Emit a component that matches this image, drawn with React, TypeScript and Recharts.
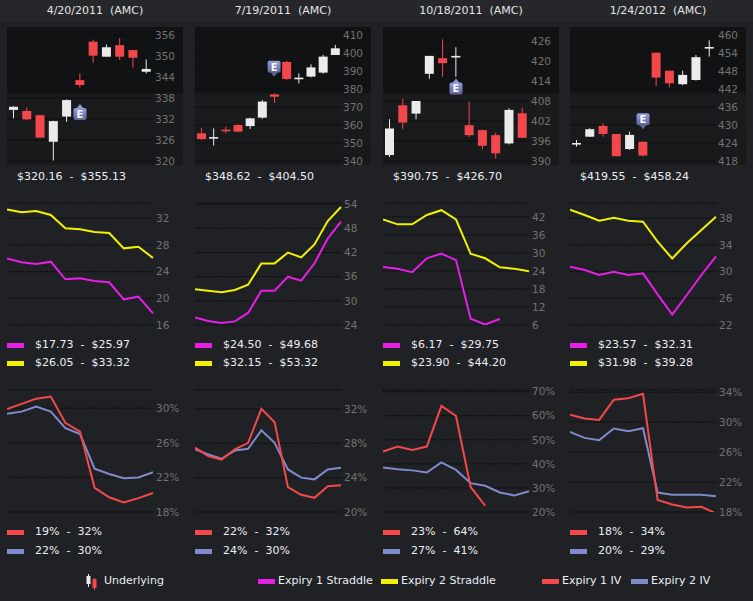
import React from 'react';
import {
  ComposedChart,
  Bar,
  Line,
  XAxis,
  YAxis,
  CartesianGrid,
  ReferenceDot
} from 'recharts';

const FONT = '"DejaVu Sans", sans-serif';

const titles = ['4/20/2011  (AMC)', '7/19/2011  (AMC)', '10/18/2011  (AMC)', '1/24/2012  (AMC)'];

// daily candles as [open, high, low, close]
const ohlcApr11 = [
  [334.6, 335.6, 332.2, 335.5], [334.3, 335.3, 331.7, 331.9], [333.1, 333.2, 326.5, 326.7],
  [325.5, 331.5, 320.16, 331.4], [332.7, 337.6, 331.2, 337.4], [343.1, 345.0, 341.0, 341.7],
  [354.1, 354.6, 348.1, 350.1], [349.8, 353.3, 349.8, 352.5], [353.1, 355.13, 348.9, 349.8],
  [351.7, 351.7, 346.7, 349.5], [345.5, 349.0, 345.0, 346.3]
];
const ohlcJul11 = [
  [355.4, 358.5, 351.7, 352.2], [353.0, 358.1, 348.62, 353.3], [357.4, 359.1, 355.4, 357.0],
  [360.0, 360.6, 356.0, 356.3], [359.4, 364.0, 357.8, 363.7], [364.1, 373.9, 363.5, 373.0],
  [377.0, 377.6, 372.4, 375.7], [395.0, 395.6, 385.0, 385.6], [385.9, 388.7, 383.1, 386.3],
  [386.9, 393.7, 386.5, 392.0], [389.1, 398.9, 388.5, 398.0], [398.9, 404.5, 398.9, 402.6]
];
const ohlcOct11 = [
  [391.8, 402.6, 391.2, 399.8], [406.8, 408.7, 399.7, 401.6], [404.3, 408.1, 402.6, 408.1],
  [416.3, 421.7, 414.8, 421.7], [421.0, 426.7, 415.4, 419.5], [421.3, 424.3, 415.4, 421.7],
  [400.8, 407.9, 397.3, 397.8], [399.3, 399.5, 393.5, 394.6], [397.8, 398.5, 390.75, 392.3],
  [395.3, 405.9, 395.0, 405.4], [404.4, 406.1, 397.0, 397.0]
];
const ohlcJan12 = [
  [423.8, 425.0, 422.8, 424.0], [426.1, 428.9, 426.0, 428.6], [429.7, 430.6, 426.1, 427.0],
  [427.0, 427.0, 419.55, 419.6], [422.0, 427.8, 421.7, 426.7], [424.4, 424.5, 419.6, 419.8],
  [454.1, 454.1, 443.0, 445.8], [448.1, 448.1, 442.6, 443.9], [443.6, 448.1, 443.3, 446.7],
  [445.0, 453.3, 444.8, 452.6], [455.6, 458.24, 452.8, 456.0]
];

const priceTicks = [
  [320, 326, 332, 338, 344, 350, 356],
  [340, 350, 360, 370, 380, 390, 400, 410],
  [390, 396, 402, 408, 414, 420, 426],
  [418, 424, 430, 436, 442, 448, 454, 460]
];
const priceDomains = [[320, 356], [340, 410], [390, 428], [418, 460]];
const priceRanges = ['$320.16  -  $355.13', '$348.62  -  $404.50', '$390.75  -  $426.70', '$419.55  -  $458.24'];

// earnings marker: candle index, price level, pointer direction
const earnIdx = [5, 6, 5, 5];
const earnVal = [333.4, 392.4, 411.9, 431.9];
const earnDir = ['up', 'down', 'up', 'down'];

// straddle prices
const straddle1Apr = [25.97, 25.4, 25.15, 25.5, 22.85, 23.0, 22.6, 22.4, 19.85, 20.25, 17.73];
const straddle2Apr = [33.32, 32.9, 33.1, 32.5, 30.5, 30.35, 29.95, 29.8, 27.5, 27.75, 26.05];
const straddle1Jul = [25.9, 25.0, 24.5, 24.9, 27.0, 32.5, 32.5, 36.0, 35.0, 39.3, 45.5, 49.68];
const straddle2Jul = [32.9, 32.5, 32.15, 32.7, 34.0, 39.3, 39.3, 42.0, 40.8, 44.0, 49.8, 53.32];
const straddle1Oct = [25.3, 24.7, 23.6, 28.2, 29.75, 27.6, 8.1, 6.17, 8.0, null, null];
const straddle2Oct = [41.1, 39.5, 39.5, 42.6, 44.2, 41.1, 29.7, 28.2, 25.2, 24.7, 23.9];
const straddle1Jan = [30.75, 30.25, 29.5, 30.0, 29.5, 29.75, 26.6, 23.57, 26.5, 29.5, 32.31];
const straddle2Jan = [39.28, 38.5, 37.65, 38.1, 37.65, 37.5, 34.5, 31.98, 34.25, 36.25, 38.25];

const straddleTicks = [[16, 20, 24, 28, 32], [24, 30, 36, 42, 48, 54], [6, 12, 18, 24, 30, 36, 42], [22, 26, 30, 34, 38]];
const straddleDomains = [[16, 34.3], [24, 54.3], [6, 46.6], [22, 40.3]];
const straddle1Ranges = ['$17.73  -  $25.97', '$24.50  -  $49.68', '$6.17  -  $29.75', '$23.57  -  $32.31'];
const straddle2Ranges = ['$26.05  -  $33.32', '$32.15  -  $53.32', '$23.90  -  $44.20', '$31.98  -  $39.28'];

// implied volatility, percent
const iv1Apr = [29.9, 30.5, 31.1, 31.35, 28.3, 27.3, 20.8, 19.7, 19.1, 19.6, 20.2];
const iv2Apr = [29.35, 29.6, 30.2, 29.6, 27.7, 27.0, 23.0, 22.4, 21.9, 22.0, 22.6];
const iv1Jul = [27.5, 26.5, 26.1, 27.3, 28.05, 32.0, 30.45, 22.9, 22.0, 21.65, 23.0, 23.1];
const iv2Jul = [27.3, 26.7, 26.2, 27.15, 27.35, 29.5, 28.05, 24.95, 24.0, 23.8, 24.95, 25.15];
const iv1Oct = [45.1, 47.2, 45.8, 47.2, 64.1, 59.9, 30.4, 22.6, null, null, null];
const iv2Oct = [38.5, 37.8, 37.3, 36.4, 40.6, 37.5, 32.0, 30.9, 28.1, 26.9, 28.6];
const iv1Jan = [31.0, 30.5, 30.3, 33.0, 33.2, 33.8, 19.6, 19.0, 18.6, 18.7, 17.8];
const iv2Jan = [28.7, 27.9, 27.6, 29.15, 28.8, 29.2, 20.6, 20.3, 20.3, 20.3, 20.1];

const ivTicks = [[18, 22, 26, 30], [20, 24, 28, 32], [20, 30, 40, 50, 60, 70], [18, 22, 26, 30, 34]];
const ivDomains = [[18, 32.1], [20, 34.2], [20, 70.7], [18, 34.3]];
const iv1Ranges = ['19%  -  32%', '22%  -  32%', '23%  -  64%', '18%  -  34%'];
const iv2Ranges = ['22%  -  30%', '24%  -  30%', '27%  -  41%', '20%  -  29%'];

const ohlcAll = [ohlcApr11, ohlcJul11, ohlcOct11, ohlcJan12];
const straddle1All = [straddle1Apr, straddle1Jul, straddle1Oct, straddle1Jan];
const straddle2All = [straddle2Apr, straddle2Jul, straddle2Oct, straddle2Jan];
const iv1All = [iv1Apr, iv1Jul, iv1Oct, iv1Jan];
const iv2All = [iv2Apr, iv2Jul, iv2Oct, iv2Jan];

const COL_LEFT = [7, 195, 383, 570];
const COL_W = 176;
const AXIS_W = 30;

const C_WHITE = '#ebebeb';
const C_RED = '#f2484b';
const C_MAGENTA = '#e61ee6';
const C_YELLOW = '#f2f200';
const C_IV1 = '#f5484b';
const C_IV2 = '#7e8bcc';
const C_TICK = '#727272';
const C_TEXT = '#eceef4';

function Candle(props: any) {
  const { x, y, width, height, payload } = props;
  if (!payload || !isFinite(y) || !isFinite(height)) return null;
  const { open, high, low, close } = payload;
  const span = high - low || 1;
  const py = (v: number) => y + ((high - v) / span) * height;
  const color = close >= open ? C_WHITE : C_RED;
  const cx = x + width / 2;
  const top = py(Math.max(open, close));
  const bot = py(Math.min(open, close));
  const bh = Math.max(bot - top, 1.6);
  return (
    <g>
      <line x1={cx} x2={cx} y1={y} y2={y + height} stroke={color} strokeWidth={1} />
      <rect x={x} y={top} width={width} height={bh} fill={color} />
    </g>
  );
}

function EarnMark(props: any) {
  const { cx, cy, dir } = props;
  if (!isFinite(cx) || !isFinite(cy)) return null;
  const w = 13;
  const h = 12;
  const x0 = cx - w / 2;
  const y0 = cy - h / 2;
  const tri = dir === 'up'
    ? `${cx - 3.5},${y0 + 0.5} ${cx},${y0 - 4} ${cx + 3.5},${y0 + 0.5}`
    : `${cx - 3.5},${y0 + h - 0.5} ${cx},${y0 + h + 4} ${cx + 3.5},${y0 + h - 0.5}`;
  return (
    <g>
      <polygon points={tri} fill={dir === 'up' ? '#8f98dc' : '#5f6596'} />
      <rect x={x0} y={y0} width={w} height={h} rx={2} fill="url(#earnGrad)" />
      <text x={cx} y={cy + 4} textAnchor="middle" fontSize={10} fontWeight="bold" fill="#f6f6f6" fontFamily={FONT}>
        E
      </text>
    </g>
  );
}

const tickStyle = { fill: C_TICK, fontSize: 10.5, fontFamily: FONT };

function LegendRow({ top, color, label }: { top: number; color: string; label: string }) {
  return (
    <div style={{ position: 'absolute', left: 0, top: top - 8, height: 16, width: COL_W }}>
      <div style={{ position: 'absolute', left: 0, top: 5.5, width: 17, height: 5, background: color }} />
      <div
        style={{
          position: 'absolute', left: 28, top: 0, lineHeight: '16px', fontSize: 11,
          color: C_TEXT, whiteSpace: 'pre', fontFamily: FONT
        }}
      >
        {label}
      </div>
    </div>
  );
}

function LinePair({ rows, ticks, domain, colors, pct }: any) {
  return (
    <ComposedChart width={COL_W} height={135} data={rows} margin={{ top: 8, right: 0, bottom: 5, left: 0 }}>
      <CartesianGrid vertical={false} stroke="#0c0d0e" strokeDasharray="2 1" />
      <XAxis dataKey="i" hide />
      <YAxis
        orientation="right"
        width={AXIS_W}
        domain={domain}
        ticks={ticks}
        allowDataOverflow
        tickLine={false}
        axisLine={false}
        tickSize={0}
        tickMargin={3}
        interval={0}
        tick={tickStyle}
        tickFormatter={(v: number) => (pct ? `${v}%` : `${v}`)}
      />
      <Line type="linear" dataKey="b" stroke={colors[1]} strokeWidth={2} dot={false} isAnimationActive={false} />
      <Line type="linear" dataKey="a" stroke={colors[0]} strokeWidth={2} dot={false} isAnimationActive={false} />
    </ComposedChart>
  );
}

function Column({ k }: { k: number }) {
  const candleRows = ohlcAll[k].map((c, i) => ({
    i, open: c[0], high: c[1], low: c[2], close: c[3], range: [c[2], c[1]]
  }));
  const straddleRows = straddle1All[k].map((v, i) => ({ i, a: v, b: straddle2All[k][i] }));
  const ivRows = iv1All[k].map((v, i) => ({ i, a: v, b: iv2All[k][i] }));

  return (
    <div style={{ position: 'absolute', left: COL_LEFT[k], top: 0, width: COL_W, height: 560 }}>
      <div
        style={{
          position: 'absolute', left: 0, top: 0, width: COL_W, lineHeight: '21px', textAlign: 'center',
          fontSize: 11, color: '#e4e4e4', whiteSpace: 'pre', fontFamily: FONT
        }}
      >
        {titles[k]}
      </div>
      <div
        style={{
          position: 'absolute', left: 0, top: 27, width: COL_W, height: 138,
          background: 'linear-gradient(to bottom, #111214 0%, #111214 47%, #1a1b1d 49%, #18191b 100%)'
        }}
      />
      <div style={{ position: 'absolute', left: 0, top: 25 }}>
        <ComposedChart width={COL_W} height={145} data={candleRows} margin={{ top: 10, right: 0, bottom: 9, left: 0 }}>
          <defs>
            <linearGradient id="earnGrad" x1="0" y1="0" x2="0" y2="1">
              <stop offset="0%" stopColor="#959ee0" />
              <stop offset="100%" stopColor="#5d6392" />
            </linearGradient>
          </defs>
          <CartesianGrid vertical={false} stroke="#0e0f10" />
          <XAxis dataKey="i" hide />
          <YAxis
            orientation="right"
            width={AXIS_W}
            domain={priceDomains[k]}
            ticks={priceTicks[k]}
            allowDataOverflow
            tickLine={false}
            axisLine={false}
            tickSize={0}
            tickMargin={2}
            interval={0}
            tick={tickStyle}
          />
          <Bar dataKey="range" barSize={9} shape={<Candle />} isAnimationActive={false} />
          <ReferenceDot
            x={earnIdx[k]}
            y={earnVal[k]}
            r={6}
            shape={(p: any) => <EarnMark {...p} dir={earnDir[k]} />}
          />
        </ComposedChart>
      </div>
      <div
        style={{
          position: 'absolute', left: 10, top: 169, lineHeight: '16px', fontSize: 11,
          color: C_TEXT, whiteSpace: 'pre', fontFamily: FONT
        }}
      >
        {priceRanges[k]}
      </div>

      <div style={{ position: 'absolute', left: 0, top: 195 }}>
        <LinePair rows={straddleRows} ticks={straddleTicks[k]} domain={straddleDomains[k]} colors={[C_MAGENTA, C_YELLOW]} />
      </div>
      <LegendRow top={345} color={C_MAGENTA} label={straddle1Ranges[k]} />
      <LegendRow top={363} color={C_YELLOW} label={straddle2Ranges[k]} />

      <div style={{ position: 'absolute', left: 0, top: 382 }}>
        <LinePair rows={ivRows} ticks={ivTicks[k]} domain={ivDomains[k]} colors={[C_IV1, C_IV2]} pct />
      </div>
      <LegendRow top={532} color={C_IV1} label={iv1Ranges[k]} />
      <LegendRow top={551} color={C_IV2} label={iv2Ranges[k]} />
    </div>
  );
}

const legendItems = [
  { label: 'Expiry 1 Straddle', color: C_MAGENTA, left: 258 },
  { label: 'Expiry 2 Straddle', color: C_YELLOW, left: 381 },
  { label: 'Expiry 1 IV', color: C_IV1, left: 542 },
  { label: 'Expiry 2 IV', color: C_IV2, left: 631 }
];

export default function App() {
  return (
    <div
      style={{
        position: 'absolute', left: 0, top: 0, width: 753, height: 601, overflow: 'hidden',
        background: '#1f2125', fontFamily: FONT
      }}
    >
      <div style={{ position: 'absolute', left: 0, top: 0, width: 753, height: 21, background: '#25272b' }} />
      {[0, 1, 2, 3].map((k) => (
        <Column key={k} k={k} />
      ))}
      <div style={{ position: 'absolute', left: 0, top: 572, width: 753, height: 18 }}>
        <svg width={20} height={18} style={{ position: 'absolute', left: 84, top: 0 }}>
          <line x1={4.5} x2={4.5} y1={2} y2={15} stroke={C_WHITE} />
          <rect x={2.5} y={4} width={4} height={8} fill={C_WHITE} />
          <line x1={10.5} x2={10.5} y1={6} y2={18} stroke={C_RED} />
          <rect x={8.5} y={7} width={4} height={9} fill={C_RED} />
        </svg>
        <div style={{ position: 'absolute', left: 104, top: 0, lineHeight: '18px', fontSize: 11, color: C_TEXT }}>
          Underlying
        </div>
        {legendItems.map((it) => (
          <div key={it.label} style={{ position: 'absolute', left: it.left, top: 0, height: 18 }}>
            <div style={{ position: 'absolute', left: 0, top: 7, width: 17, height: 5, background: it.color }} />
            <div
              style={{
                position: 'absolute', left: 20, top: 0, lineHeight: '18px', fontSize: 11,
                color: C_TEXT, whiteSpace: 'pre'
              }}
            >
              {it.label}
            </div>
          </div>
        ))}
      </div>
    </div>
  );
}
